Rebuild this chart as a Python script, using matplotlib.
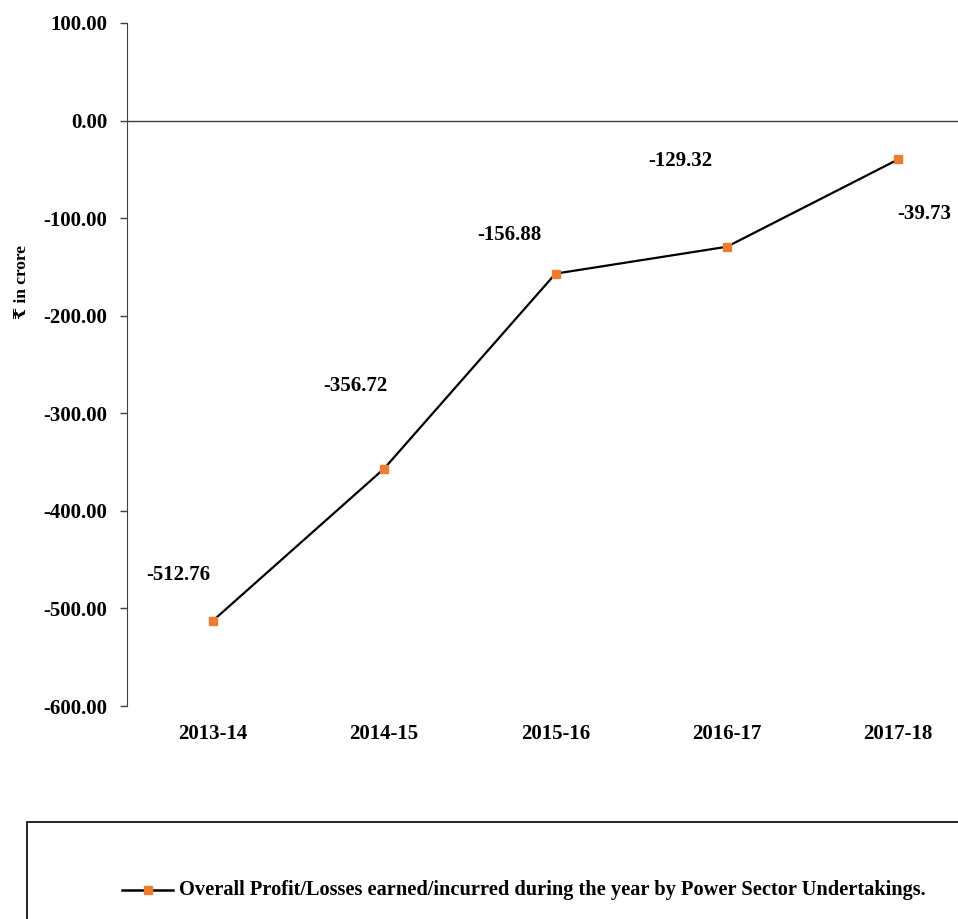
import matplotlib.pyplot as plt
from matplotlib.patches import Rectangle

years = ['2013-14', '2014-15', '2015-16', '2016-17', '2017-18']
profit_loss = [-512.76, -356.72, -156.88, -129.32, -39.73]
# label offsets (x in categories, y in crore) as they sit in the picture
label_dx = [-0.2, -0.17, -0.27, -0.27, 0.15]
label_dy = [47, 85, 40, 88, -56]
y_ticks = [100, 0, -100, -200, -300, -400, -500, -600]

plt.rcParams['font.family'] = ['Liberation Serif', 'DejaVu Serif', 'DejaVu Sans']
plt.rcParams['font.weight'] = 'bold'

fig = plt.figure(figsize=(9.58, 9.19), dpi=100)
ax = fig.add_axes([127 / 958, 1 - 706 / 919, 857 / 958, 683 / 919])

x = list(range(len(years)))
ax.plot(x, profit_loss, color='black', linewidth=1.6, marker='s',
        markersize=6, markerfacecolor='#ED7D31', markeredgecolor='#ED7D31',
        zorder=3, clip_on=False)

for i, v in enumerate(profit_loss):
    ax.text(i + label_dx[i], v + label_dy[i], '%.2f' % v, fontsize=15,
            fontweight='bold', ha='center', va='center')

ax.axhline(0, color='#404040', linewidth=1)
ax.set_xlim(-0.5, 4.5)
ax.set_ylim(-600, 100)
ax.set_yticks(y_ticks)
ax.set_yticklabels(['%.2f' % t for t in y_ticks], fontsize=15, fontweight='bold')
ax.set_xticks(x)
ax.set_xticklabels(years, fontsize=15, fontweight='bold')
ax.tick_params(axis='x', length=0, pad=13)
ax.tick_params(axis='y', length=5, width=1, color='#404040', pad=9)
for side in ['top', 'right', 'bottom']:
    ax.spines[side].set_visible(False)
ax.spines['left'].set_color('#404040')

fig.text(22 / 958, 1 - 282 / 919, '₹ in crore', rotation=90, fontsize=12.5,
         fontweight='bold', ha='center', va='center')

# legend box, cut by the right and bottom edges like the original
fig.patches.append(Rectangle((27 / 958, -0.01), 1.0, 1.01 - 822 / 919,
                             transform=fig.transFigure, fill=False,
                             edgecolor='black', linewidth=1.2))
fig.lines.append(plt.Line2D([122 / 958, 173 / 958], [1 - 890 / 919] * 2,
                            transform=fig.transFigure, color='black',
                            linewidth=1.8, zorder=3))
fig.lines.append(plt.Line2D([147.5 / 958], [1 - 890 / 919], transform=fig.transFigure,
                            marker='s', markersize=6, color='#ED7D31', zorder=4))
fig.text(179 / 958, 1 - 890 / 919,
         'Overall Profit/Losses earned/incurred during the year by Power Sector Undertakings.',
         fontsize=14.7, fontweight='bold', va='center', ha='left')

fig.savefig('out.png', dpi=100)
